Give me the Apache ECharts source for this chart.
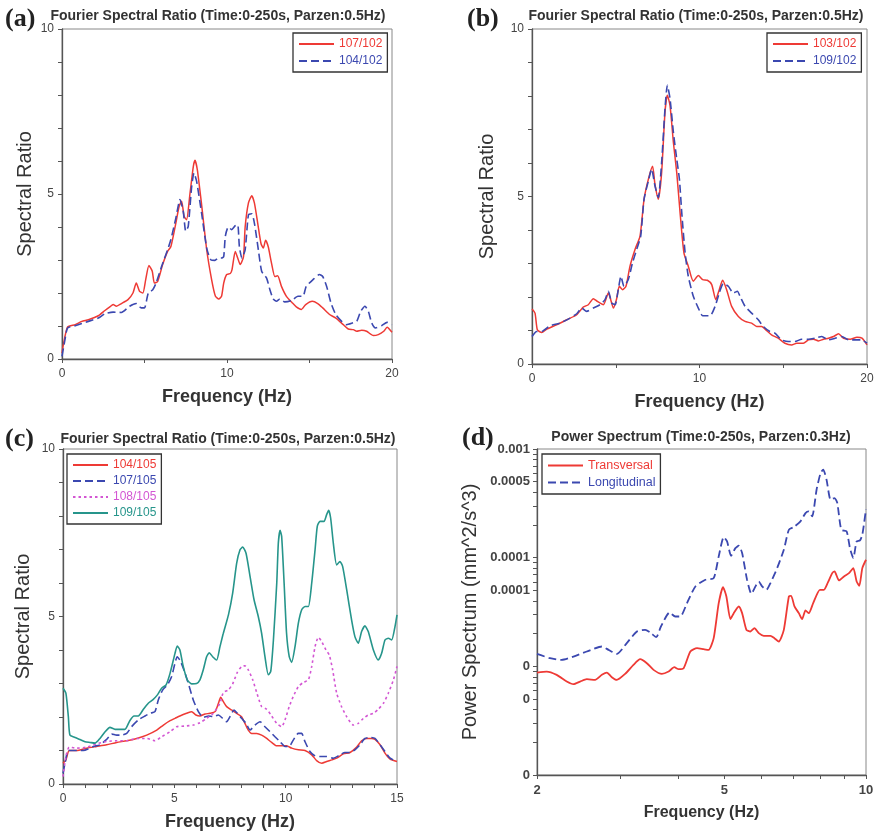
<!DOCTYPE html>
<html>
<head>
<meta charset="utf-8">
<script src="https://cdn.jsdelivr.net/npm/echarts@6/dist/echarts.min.js"></script>
<style>
  html, body { margin: 0; padding: 0; background: #fff; }
  #chart { width: 879px; height: 831px; }
</style>
</head>
<body>
<div id="chart"></div>
<script>
// ---------------- data ----------------
// (a) Fourier spectral ratio, reference 102
var freqA107 = [0,0.08,0.34,0.8,1.2,1.6,2.2,2.6,2.9,3.1,3.3,3.6,4.0,4.3,4.5,4.7,4.9,5.07,5.27,5.47,5.6,5.8,6.1,6.4,6.6,6.9,7.1,7.25,7.4,7.55,7.76,7.96,8.06,8.2,8.46,8.77,9.07,9.3,9.5,9.67,9.8,9.98,10.2,10.3,10.5,10.65,10.8,11.0,11.1,11.3,11.5,11.66,11.86,12.06,12.2,12.34,12.5,12.7,12.9,13.07,13.3,13.6,13.96,14.2,14.5,14.77,15.17,15.5,15.8,16.24,16.6,17.05,17.35,17.66,17.86,18.16,18.46,18.87,19.17,19.5,19.7,20];
var ratioA107 = [0.18,0.43,0.97,1.04,1.14,1.19,1.31,1.47,1.58,1.65,1.6,1.68,1.8,2.0,2.3,2.05,2.0,2.4,2.83,2.66,2.3,2.35,2.86,3.26,3.41,4.12,4.63,4.78,4.32,4.22,5.03,5.84,6.02,5.74,4.68,3.31,2.4,1.9,1.82,1.9,2.3,2.56,2.59,2.7,3.26,3.06,2.86,3.1,4.0,4.73,4.95,4.73,4.12,3.5,3.36,3.6,3.4,2.9,2.5,2.52,2.2,1.9,1.7,1.58,1.5,1.65,1.75,1.68,1.55,1.34,1.24,1.04,0.91,0.89,0.84,0.87,0.84,0.71,0.74,0.84,0.96,0.81];
var freqA104 = [0,0.18,0.34,0.8,1.6,2.2,2.6,3.1,3.6,4.1,4.5,4.8,5.0,5.23,5.5,5.7,6.04,6.4,6.6,6.9,7.15,7.35,7.5,7.65,7.86,8.0,8.16,8.46,8.77,9.03,9.27,9.47,9.67,9.8,9.9,10.08,10.28,10.5,10.65,10.75,10.9,11.1,11.3,11.5,11.66,11.9,12.1,12.4,12.6,12.8,13.0,13.2,13.5,13.9,14.3,14.6,14.8,15.2,15.6,15.8,16.04,16.3,16.6,16.95,17.25,17.6,17.86,18.1,18.36,18.57,18.77,19.0,19.37,19.7,20];
var ratioA104 = [0.08,0.59,0.94,1.01,1.14,1.24,1.37,1.42,1.41,1.6,1.68,1.55,1.55,2.0,2.1,2.3,2.81,3.31,3.62,4.27,4.83,4.47,3.87,4.02,5.23,5.64,5.38,4.42,3.36,3.0,2.99,3.06,3.06,3.1,3.72,4.0,3.92,4.04,4.07,3.41,3.06,3.31,4.37,4.4,4.12,3.31,2.66,2.45,2.1,1.82,1.75,1.82,1.73,1.77,1.9,1.9,2.2,2.4,2.56,2.5,2.2,1.7,1.34,1.14,1.04,1.09,1.14,1.44,1.6,1.44,1.09,0.94,1.01,1.11,1.04];

// (b) Fourier spectral ratio, reference 102
var freqB103 = [0,0.18,0.32,0.58,0.88,1.47,2.07,2.67,3.06,3.36,3.66,3.9,4.26,4.56,4.7,4.86,5.05,5.21,5.41,5.61,5.85,6.15,6.45,6.69,6.95,7.2,7.34,7.54,7.74,7.94,8.08,8.24,8.44,8.64,8.84,9.07,9.33,9.63,9.93,10.19,10.47,10.73,10.97,11.18,11.38,11.62,11.92,12.32,12.72,13.11,13.41,13.71,14.0,14.3,14.7,15.1,15.5,15.8,16.2,16.5,16.8,17.1,17.4,17.7,18.0,18.3,18.6,19.0,19.4,19.7,20];
var ratioB103 = [1.64,1.52,1.02,0.94,1.04,1.17,1.32,1.47,1.7,1.77,1.95,1.87,1.77,2.12,1.92,1.67,1.94,2.32,2.22,2.32,2.92,3.42,3.82,4.92,5.52,5.9,5.37,4.92,5.72,7.52,8.02,7.72,6.62,5.72,4.52,3.32,2.92,2.47,2.64,2.52,2.5,2.37,1.92,2.22,2.5,2.22,1.72,1.42,1.27,1.22,1.12,1.12,1.0,0.87,0.77,0.62,0.57,0.62,0.62,0.72,0.74,0.69,0.74,0.77,0.82,0.9,0.77,0.74,0.8,0.77,0.57];
var freqB109 = [0,0.28,0.58,1.07,1.67,2.27,2.67,2.97,3.26,3.66,4.06,4.36,4.56,4.76,4.96,5.15,5.31,5.49,5.75,6.0,6.25,6.49,6.69,6.95,7.14,7.34,7.54,7.74,7.94,8.08,8.24,8.44,8.64,8.8,8.94,9.14,9.33,9.63,9.93,10.19,10.63,10.93,11.18,11.42,11.72,12.02,12.26,12.42,12.72,13.11,13.51,13.81,14.2,14.5,14.9,15.3,15.7,16.1,16.5,16.9,17.3,17.7,18.1,18.5,18.9,19.3,19.7,20];
var ratioB109 = [0.82,0.97,0.97,1.14,1.22,1.37,1.5,1.67,1.57,1.67,1.77,1.92,2.17,1.82,1.77,2.22,2.62,2.32,2.52,3.02,3.42,3.82,4.92,5.47,5.82,5.32,4.97,6.02,7.62,8.32,7.92,6.92,6.12,5.52,4.52,3.32,2.62,2.02,1.67,1.44,1.44,1.72,2.12,2.4,2.32,2.12,2.17,2.02,1.72,1.52,1.32,1.12,0.97,0.92,0.72,0.67,0.67,0.74,0.74,0.77,0.82,0.72,0.77,0.82,0.72,0.72,0.72,0.62];

// (c) Fourier spectral ratio, reference 105
var freqC104 = [0,0.13,0.28,0.61,1.06,1.51,1.96,2.41,2.86,3.31,3.76,4.21,4.51,4.81,5.03,5.25,5.55,5.78,5.97,6.15,6.38,6.6,6.83,6.98,7.08,7.2,7.35,7.57,7.8,8.02,8.17,8.32,8.47,8.7,8.92,9.15,9.37,9.6,9.82,10.04,10.27,10.57,10.87,11.17,11.39,11.62,11.84,12.07,12.29,12.59,12.89,13.19,13.41,13.64,13.86,14.01,14.24,14.46,14.69,15];
var ratioC104 = [0.62,0.72,1.0,1.0,1.07,1.12,1.17,1.24,1.29,1.36,1.46,1.61,1.76,1.89,1.96,2.03,2.11,2.16,2.06,2.03,2.09,2.11,2.16,2.41,2.59,2.46,2.31,2.21,2.11,2.01,1.81,1.61,1.51,1.51,1.46,1.36,1.24,1.14,1.14,1.14,1.07,1.02,1.0,0.87,0.7,0.62,0.67,0.72,0.77,0.9,0.94,1.1,1.29,1.36,1.36,1.33,1.17,0.92,0.74,0.67];
var freqC107 = [0,0.09,0.24,0.54,0.91,1.36,1.66,1.96,2.19,2.41,2.63,2.86,3.08,3.38,3.68,3.91,4.13,4.28,4.48,4.69,4.88,5.03,5.13,5.28,5.48,5.67,5.85,6.08,6.3,6.53,6.75,6.98,7.17,7.35,7.5,7.68,7.83,8.02,8.22,8.4,8.62,8.85,9.07,9.3,9.52,9.75,9.97,10.16,10.34,10.57,10.72,10.87,11.09,11.32,11.54,11.84,12.14,12.44,12.66,12.89,13.11,13.34,13.56,13.79,14.01,14.24,14.46,14.69,15];
var ratioC107 = [0.32,0.62,1.0,1.0,1.0,1.12,1.17,1.33,1.49,1.46,1.46,1.51,1.71,1.91,2.03,2.11,2.16,2.51,2.81,2.96,3.21,3.61,3.8,3.66,3.31,2.91,2.51,2.16,1.99,2.03,2.01,2.06,1.96,1.86,2.01,2.21,2.11,1.96,1.81,1.61,1.76,1.86,1.71,1.56,1.41,1.26,1.12,1.12,1.31,1.51,1.51,1.26,0.97,0.84,0.82,0.82,0.77,0.87,0.94,0.94,1.02,1.17,1.36,1.39,1.36,1.17,0.97,0.77,0.67];
var freqC108 = [0,0.13,0.28,0.61,1.06,1.51,1.96,2.41,2.86,3.31,3.76,4.13,4.43,4.81,5.1,5.48,5.85,6.15,6.45,6.75,7.05,7.2,7.43,7.62,7.83,8.02,8.17,8.32,8.52,8.7,8.92,9.15,9.37,9.6,9.82,9.97,10.16,10.34,10.57,10.79,11.02,11.17,11.32,11.47,11.62,11.81,11.96,12.11,12.29,12.51,12.74,13.04,13.26,13.49,13.71,13.94,14.16,14.39,14.61,14.84,15];
var ratioC108 = [0.22,0.82,1.1,1.07,1.1,1.2,1.27,1.29,1.29,1.36,1.36,1.29,1.41,1.56,1.71,1.73,1.76,1.83,1.96,2.11,2.41,2.73,2.81,2.99,3.33,3.51,3.53,3.41,3.11,2.73,2.31,2.23,2.03,1.81,1.71,1.91,2.31,2.61,2.91,3.03,3.11,3.51,4.1,4.38,4.25,4.0,3.85,3.41,2.71,2.31,2.01,1.76,1.81,1.96,2.06,2.11,2.23,2.41,2.71,3.11,3.51];
var freqC109 = [0,0.13,0.24,0.31,0.54,0.76,0.99,1.21,1.44,1.66,1.89,2.11,2.34,2.56,2.78,3.0,3.19,3.38,3.61,3.83,4.03,4.24,4.43,4.63,4.81,5.03,5.13,5.25,5.4,5.58,5.78,6.0,6.15,6.3,6.45,6.57,6.72,6.9,7.05,7.2,7.43,7.62,7.8,7.95,8.07,8.22,8.4,8.58,8.77,8.92,9.07,9.22,9.33,9.45,9.6,9.67,9.75,9.82,9.93,10.04,10.16,10.27,10.42,10.57,10.72,10.87,11.02,11.17,11.32,11.42,11.54,11.72,11.84,11.93,12.02,12.14,12.29,12.44,12.56,12.74,12.96,13.11,13.26,13.41,13.56,13.71,13.94,14.16,14.31,14.46,14.61,14.76,14.91,15];
var ratioC109 = [2.86,2.71,2.01,1.46,1.39,1.33,1.26,1.24,1.22,1.36,1.56,1.69,1.63,1.63,1.63,1.89,2.03,2.03,2.23,2.41,2.51,2.66,2.86,2.96,3.31,3.9,4.12,4.0,3.51,3.11,2.99,3.0,3.11,3.41,3.8,3.92,3.8,3.7,4.1,4.5,5.05,5.7,6.59,6.99,7.07,6.89,6.2,5.5,5.0,4.5,3.8,3.26,3.36,4.3,6.0,7.19,7.57,7.39,6.0,4.5,3.8,3.63,4.1,4.8,5.2,5.3,5.3,6.0,6.99,7.69,7.84,7.84,8.04,8.17,7.94,7.19,6.54,6.64,6.49,5.8,4.9,4.4,4.2,4.55,4.72,4.55,4.0,3.7,3.9,4.3,4.35,4.3,4.7,5.05];

// (d) power spectrum
var freqDLong = [2.0,2.131,2.257,2.39,2.552,2.747,2.838,2.955,3.103,3.26,3.395,3.48,3.584,3.667,3.826,3.934,4.032,4.166,4.34,4.558,4.747,4.865,4.986,5.068,5.168,5.279,5.366,5.455,5.589,5.709,5.822,5.918,6.015,6.145,6.266,6.475,6.69,6.857,7.026,7.258,7.438,7.561,7.685,7.852,8.007,8.112,8.245,8.41,8.576,8.69,8.861,9.095,9.245,9.398,9.553,9.71,9.822,10];
var powerDLong = [1.302e-5,1.188e-5,1.147e-5,1.231e-5,1.369e-5,1.522e-5,1.418e-5,1.302e-5,1.634e-5,2.092e-5,2.167e-5,2.048e-5,1.855e-5,2.326e-5,3.13e-5,2.874e-5,2.874e-5,3.815e-5,5.433e-5,6.258e-5,6.484e-5,1.027e-4,1.547e-4,1.411e-4,1.041e-4,1.225e-4,1.287e-4,1.102e-4,6.258e-5,4.651e-5,5.433e-5,6.04e-5,5.433e-5,5.06e-5,5.832e-5,8.015e-5,1.182e-4,1.807e-4,1.912e-4,2.157e-4,2.573e-4,2.667e-4,2.398e-4,4.22e-4,6.009e-4,6.45e-4,5.218e-4,3.415e-4,3.538e-4,3.181e-4,1.807e-4,1.744e-4,1.225e-4,9.91e-5,1.411e-4,1.441e-4,1.625e-4,2.801e-4];
var freqDTrans = [2.0,2.097,2.202,2.313,2.39,2.47,2.552,2.658,2.747,2.815,2.884,2.955,3.078,3.206,3.313,3.423,3.537,3.685,3.807,3.915,3.999,4.098,4.235,4.375,4.52,4.632,4.747,4.865,4.969,5.051,5.151,5.236,5.366,5.455,5.571,5.681,5.793,5.918,6.065,6.266,6.39,6.528,6.69,6.857,6.934,7.048,7.2,7.317,7.438,7.561,7.723,7.98,8.139,8.3,8.478,8.576,8.76,8.978,9.201,9.398,9.553,9.678,9.822,10];
var powerDTrans = [8.768e-6,8.956e-6,8.35e-6,7.244e-6,6.845e-6,7.244e-6,7.61e-6,7.503e-6,8.35e-6,8.768e-6,7.943e-6,7.503e-6,8.52e-6,1.032e-5,1.163e-5,1.069e-5,9.279e-6,8.52e-6,8.956e-6,9.817e-6,9.41e-6,9.612e-6,1.369e-5,1.469e-5,1.438e-5,1.418e-5,1.816e-5,3.815e-5,5.357e-5,4.394e-5,2.717e-5,3.086e-5,3.554e-5,3.086e-5,2.167e-5,2.092e-5,2.245e-5,2.02e-5,1.908e-5,1.908e-5,1.816e-5,1.692e-5,2.167e-5,4.394e-5,4.458e-5,3.554e-5,3.086e-5,2.717e-5,3.266e-5,3.086e-5,3.815e-5,5.06e-5,5.06e-5,5.915e-5,7.207e-5,7.467e-5,6.17e-5,6.717e-5,7.207e-5,8.015e-5,6.04e-5,5.511e-5,8.015e-5,9.565e-5];

// tick values / labels of panel (d)
var dFreqTicks = [2, 3, 4, 5, 6, 7, 8, 9, 10];
var dFreqLabels = [2, 5, 10];
var dPowerTicks = [];
[1e-6, 1e-5, 1e-4].forEach(function (d) {
    for (var k = 1; k < 10; k++) dPowerTicks.push(k * d);
});
dPowerTicks.push(1e-3);
var dPowerLabelValues = [1e-6, 5e-6, 1e-5, 5e-5, 1e-4, 5e-4, 1e-3];
var dPowerLabelTexts = ['0', '0', '0', '0.0001', '0.0001', '0.0005', '0.001'];

// ---------------- helpers ----------------
var RED = '#ee3a35', BLUE = '#3b48b0', MAG = '#d356d3', TEAL = '#26958b';
var AXISCOL = '#555';

function zip(xs, ys) {
    var out = [];
    for (var i = 0; i < Math.min(xs.length, ys.length); i++) out.push([xs[i], ys[i]]);
    return out;
}

function line(name, idx, xs, ys, color, type, width) {
    return {
        name: name, type: 'line', xAxisIndex: idx, yAxisIndex: idx,
        data: zip(xs, ys), symbol: 'none', smooth: 0.2,
        lineStyle: { color: color, width: width || 1.5, type: type || 'solid' },
        itemStyle: { color: color },
        silent: true
    };
}

function baseAxis(idx) {
    return {
        gridIndex: idx,
        nameLocation: 'middle',
        nameMoveOverlap: false,
        axisLine: { show: true, onZero: false, lineStyle: { color: AXISCOL, width: 1.3 } },
        axisTick: { show: true, length: 4, lineStyle: { color: AXISCOL, width: 1 } },
        splitLine: { show: false },
        minorTick: { show: false }
    };
}

function freqAxis(idx, max, step, every) {
    var ax = baseAxis(idx);
    ax.type = 'value'; ax.min = 0; ax.max = max; ax.interval = step;
    ax.name = 'Frequency (Hz)'; ax.nameGap = 29;
    ax.nameTextStyle = { fontSize: 18, fontWeight: 'bold', color: '#333' };
    ax.axisLabel = { fontSize: 12, color: '#444', margin: 9,
        formatter: function (v) { return v % every === 0 ? String(v) : ''; } };
    return ax;
}

function ratioAxis(idx, gap) {
    var ax = baseAxis(idx);
    ax.type = 'value'; ax.min = 0; ax.max = 10; ax.interval = 1;
    ax.name = 'Spectral Ratio'; ax.nameGap = gap;
    ax.nameTextStyle = { fontSize: 20, color: '#333' };
    ax.axisLabel = { fontSize: 12, color: '#444', margin: 8,
        formatter: function (v) { return v % 5 === 0 ? String(v) : ''; } };
    return ax;
}

function legendBox(left, top, items, gap, size) {
    return {
        left: left, top: top, orient: 'vertical',
        data: items.map(function (it) { return { name: it[0], textStyle: { color: it[1] } }; }),
        itemWidth: 35, itemHeight: 12, itemGap: gap,
        itemStyle: { opacity: 0 },
        padding: [5, 5, 5, 5],
        borderColor: '#333', borderWidth: 1.3,
        textStyle: { fontSize: size || 12 },
        selectedMode: false
    };
}

function gridBox(left, top, width, height) {
    return { left: left, top: top, width: width, height: height,
        show: true, borderColor: '#888', borderWidth: 1, outerBoundsMode: 'none' };
}

var titleFont = { fontFamily: 'Liberation Serif', fontSize: 26, fontWeight: 'bold', color: '#222' };
var headFont = { fontSize: 14, fontWeight: 'bold', color: '#333' };
var fourier = 'Fourier Spectral Ratio (Time:0-250s, Parzen:0.5Hz)';

// panel (d) axes
var dx = baseAxis(3);
dx.type = 'log'; dx.logBase = 10; dx.min = 2; dx.max = 10;
dx.name = 'Frequency (Hz)'; dx.nameGap = 30;
dx.nameTextStyle = { fontSize: 16, fontWeight: 'bold', color: '#333' };
dx.axisTick.customValues = dFreqTicks;
dx.axisLabel = { customValues: dFreqLabels, fontSize: 13, fontWeight: 'bold', color: '#444', margin: 9,
    formatter: function (v) { return String(Math.round(v)); } };

var dy = baseAxis(3);
dy.type = 'log'; dy.logBase = 10; dy.min = 1e-6; dy.max = 1e-3;
dy.name = 'Power Spectrum (mm^2/s^3)'; dy.nameGap = 57;
dy.nameTextStyle = { fontSize: 20, color: '#333' };
dy.axisTick.customValues = dPowerTicks;
dy.axisLabel = { customValues: dPowerLabelValues, fontSize: 13, fontWeight: 'bold', color: '#444', margin: 7,
    formatter: function (v) {
        var best = 0;
        for (var i = 1; i < dPowerLabelValues.length; i++) {
            if (Math.abs(Math.log(v / dPowerLabelValues[i])) < Math.abs(Math.log(v / dPowerLabelValues[best]))) best = i;
        }
        return dPowerLabelTexts[best];
    } };

var option = {
    animation: false,
    backgroundColor: '#fff',
    textStyle: { fontFamily: 'Liberation Sans, Arial, sans-serif' },
    title: [
        { text: '(a)', left: 5, top: 6, padding: 0, textStyle: titleFont },
        { text: '(b)', left: 467, top: 6, padding: 0, textStyle: titleFont },
        { text: '(c)', left: 5, top: 426, padding: 0, textStyle: titleFont },
        { text: '(d)', left: 462, top: 425, padding: 0, textStyle: titleFont },
        { text: fourier, left: 218, top: 9, textAlign: 'center', padding: 0, textStyle: headFont },
        { text: fourier, left: 696, top: 9, textAlign: 'center', padding: 0, textStyle: headFont },
        { text: fourier, left: 228, top: 432, textAlign: 'center', padding: 0, textStyle: headFont },
        { text: 'Power Spectrum (Time:0-250s, Parzen:0.3Hz)', left: 701, top: 430, textAlign: 'center', padding: 0,
          textStyle: { fontSize: 14, color: '#333' } }
    ],
    legend: [
        legendBox(293, 33, [['107/102', RED], ['104/102', BLUE]], 5),
        legendBox(767, 33, [['103/102', RED], ['109/102', BLUE]], 5),
        legendBox(67, 454, [['104/105', RED], ['107/105', BLUE], ['108/105', MAG], ['109/105', TEAL]], 4),
        legendBox(542, 454, [['Transversal', RED], ['Longitudinal', BLUE]], 4, 12.5)
    ],
    grid: [
        gridBox(62, 29, 330, 330),
        gridBox(532, 29, 335, 335),
        gridBox(63, 449, 334, 335),
        gridBox(537, 449, 329, 326)
    ],
    xAxis: [
        freqAxis(0, 20, 5, 10),
        freqAxis(1, 20, 5, 10),
        freqAxis(2, 15, 1, 5),
        dx
    ],
    yAxis: [
        ratioAxis(0, 27),
        ratioAxis(1, 35),
        ratioAxis(2, 30),
        dy
    ],
    series: [
        line('107/102', 0, freqA107, ratioA107, RED),
        line('104/102', 0, freqA104, ratioA104, BLUE, [8, 4], 1.6),
        line('103/102', 1, freqB103, ratioB103, RED),
        line('109/102', 1, freqB109, ratioB109, BLUE, [8, 4], 1.6),
        line('104/105', 2, freqC104, ratioC104, RED),
        line('107/105', 2, freqC107, ratioC107, BLUE, [8, 4], 1.6),
        line('108/105', 2, freqC108, ratioC108, MAG, [2.5, 3], 1.6),
        line('109/105', 2, freqC109, ratioC109, TEAL, 'solid', 1.6),
        line('Transversal', 3, freqDTrans, powerDTrans, RED, 'solid', 1.8),
        line('Longitudinal', 3, freqDLong, powerDLong, BLUE, [8, 4], 1.8)
    ]
};

var chart = echarts.init(document.getElementById('chart'), null, { renderer: 'canvas' });
chart.setOption(option);
</script>
</body>
</html>
